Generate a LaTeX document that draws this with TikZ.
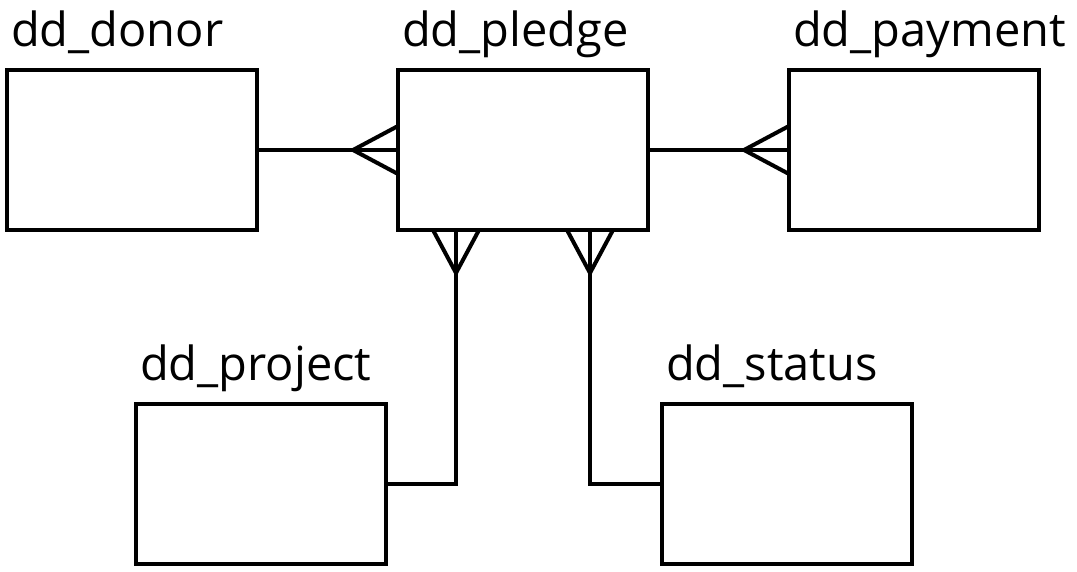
\documentclass[tikz,border=0pt]{standalone}
\usepackage{fontspec}
\setmainfont{Open Sans}
\usetikzlibrary{positioning}
\tikzset{
  entity/.style = {draw, rectangle, minimum width=250pt, minimum height=160pt, outer sep=0pt},
  entname/.style = {anchor=base west, inner sep=0pt, font=\fontsize{47}{56}\selectfont},
}
\begin{document}
\begin{tikzpicture}[x=1pt, y=-1pt, node distance = 391pt, line width=4pt, line join=miter]
   \useasboundingbox (0,0) rectangle (1077,572);
   \node[entity] (pledge) at (523,150) {};
   \node[entity, left of = pledge] (donor) {};
   \node[entity, right of = pledge] (payment) {};
   \node[entity] (project) at (261,483.5) {};
   \node[entity] (status) at (787,483.5) {};
   % table names
   \node[entname] (donorname) at ([xshift=2pt, yshift=23pt]donor.north west) {dd\_donor};
   \node[entname] (pledgename) at ([xshift=2pt, yshift=23pt]pledge.north west) {dd\_pledge};
   \node[entname] (paymentname) at ([xshift=2pt, yshift=23pt]payment.north west) {dd\_payment};
   \node[entname] (projectname) at ([xshift=2pt, yshift=23pt]project.north west) {dd\_project};
   \node[entname] (statusname) at ([xshift=2pt, yshift=23pt]status.north west) {dd\_status};
   % relations
   \draw (donor) -- (pledge);
   \draw ([xshift=-45pt]pledge.west) -- ([yshift=24pt]pledge.west);
   \draw ([xshift=-45pt]pledge.west) -- ([yshift=-24pt]pledge.west);
   \draw (pledge) -- (payment);
   \draw ([xshift=-45pt]payment.west) -- ([yshift=24pt]payment.west);
   \draw ([xshift=-45pt]payment.west) -- ([yshift=-24pt]payment.west);
   \draw ([xshift=-67pt]pledge.south) |- (project.east);
   \draw ([xshift=-67pt, yshift=-43pt]pledge.south) -- ([xshift=-90pt]pledge.south);
   \draw ([xshift=-67pt, yshift=-43pt]pledge.south) -- ([xshift=-44pt]pledge.south);
   \draw ([xshift=67pt]pledge.south) |- (status.west);
   \draw ([xshift=67pt, yshift=-43pt]pledge.south) -- ([xshift=44pt]pledge.south);
   \draw ([xshift=67pt, yshift=-43pt]pledge.south) -- ([xshift=90pt]pledge.south);
\end{tikzpicture}
\end{document}
